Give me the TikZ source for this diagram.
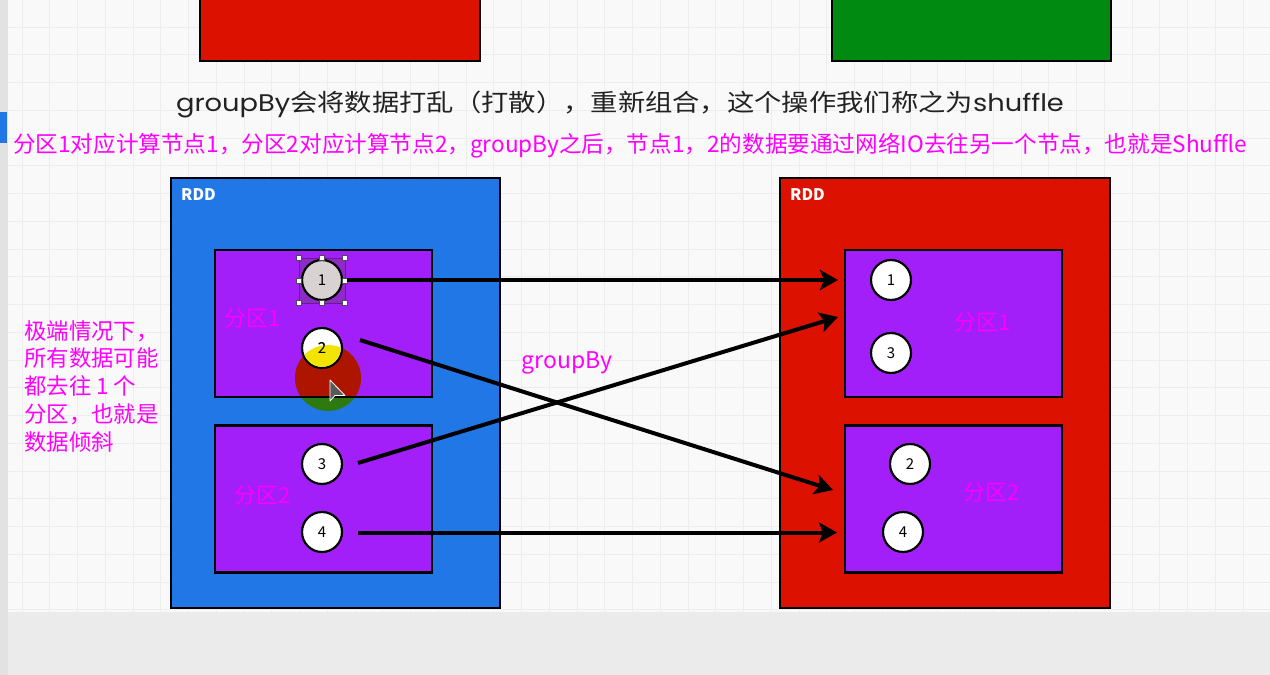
\documentclass[tikz,border=0pt]{standalone}
\usepackage{fontspec}
\setmainfont{Noto Sans CJK SC}
\newfontfamily\lat{Poppins}
\usetikzlibrary{arrows.meta}
\definecolor{bg}{HTML}{F9F9F9}
\definecolor{gridc}{HTML}{EDEDED}
\definecolor{rddblue}{HTML}{2277E6}
\definecolor{rddred}{HTML}{DD1100}
\definecolor{partc}{HTML}{A21FFA}
\definecolor{topgreen}{HTML}{008A12}
\definecolor{mag}{HTML}{FF00FF}
\definecolor{panel}{HTML}{EBEBEB}
\definecolor{strip}{HTML}{E2E2E2}
\definecolor{selgray}{HTML}{D8D2D2}
\definecolor{selfill}{HTML}{8E2BC6}
\definecolor{blobred}{HTML}{AE1500}
\definecolor{blobgreen}{HTML}{2E7A10}
\definecolor{blobyellow}{HTML}{F3E400}
\definecolor{titlec}{HTML}{222222}
\tikzset{
  rddbox/.style={draw=black, line width=2.5pt, rectangle, outer sep=0pt, inner sep=0pt},
  partbox/.style={draw=black, line width=2.5pt, fill=partc, rectangle, outer sep=0pt, inner sep=0pt, minimum width=217pt, minimum height=147pt},
  dot/.style={circle, draw=black, line width=2.2pt, fill=white, minimum size=40pt, inner sep=0pt, outer sep=0pt, font=\fontsize{15}{18}\selectfont},
  arr/.style={line width=4pt, -{Stealth[length=18pt,width=20pt,inset=4pt]}},
  magtext/.style={text=mag, inner sep=0pt},
  partlabel/.style={magtext, font=\fontsize{22}{26}\selectfont},
  rddlabel/.style={text=white, anchor=west, inner sep=0pt, font=\fontsize{16}{19}\selectfont\bfseries},
}
\begin{document}
\begin{tikzpicture}[x=1pt,y=-1pt]
\useasboundingbox (0,0) rectangle (1270,675);
% background and grid
\fill[bg] (0,0) rectangle (1270,675);
\foreach \i in {0,...,45} \draw[gridc, line width=0.9pt] (22+\i*27.75,0) -- (22+\i*27.75,612);
\foreach \j in {0,...,21} \draw[gridc, line width=0.9pt] (8,27+\j*27.75) -- (1270,27+\j*27.75);
\fill[panel] (0,612) rectangle (1270,675);
\fill[strip] (0,0) rectangle (8,675);
\fill[rddblue] (0,112) rectangle (7,143);
% top rectangles
\draw[fill=rddred, line width=2.5pt] (200,-5) rectangle (480,61);
\draw[fill=topgreen, line width=2.5pt] (832,-5) rectangle (1111,61);
% texts
\node[inner sep=0pt, text=titlec, font=\fontsize{24}{28}\selectfont] (title) at (620,104)
  {\scalebox{1.138}[1]{{\lat groupBy}会将数据打乱（打散），重新组合，这个操作我们称之为{\lat shuffle}}};
\node[magtext, anchor=west, font=\fontsize{22.6}{27}\selectfont] (note) at (13,146)
  {分区1对应计算节点1，分区2对应计算节点2，groupBy之后，节点1，2的数据要通过网络IO去往另一个节点，也就是Shuffle};
\node[magtext, anchor=north west, align=left, font=\fontsize{22.4}{27.8}\selectfont] (skew) at (24,320)
  {极端情况下，\\所有数据可能\\都去往 1 个\\分区，也就是\\数据倾斜};
% RDD boxes
\node[rddbox, fill=rddblue, minimum width=329pt, minimum height=430pt] (lrdd) at (335.5,393) {};
\node[rddbox, fill=rddred, minimum width=330pt, minimum height=430pt] (rrdd) at (945,393) {};
\node[rddlabel] (lrddt) at (181,195) {RDD};
\node[rddlabel] (rrddt) at (790,195) {RDD};
% partitions
\node[partbox] (lp1) at (323.5,323.5) {};
\node[partbox] (lp2) at (323.5,499) {};
\node[partbox] (rp1) at (953.5,323.5) {};
\node[partbox] (rp2) at (953.5,499) {};
\node[partlabel] (lp1t) at (253,318) {分区1};
\node[partlabel] (lp2t) at (263,495) {分区2};
\node[partlabel] (rp1t) at (983,322) {分区1};
\node[partlabel] (rp2t) at (992,492) {分区2};
% click highlight blob
\begin{scope}
  \clip (328,378) circle[radius=33];
  \fill[blobgreen] (290,340) rectangle (370,420);
  \fill[blobred] (lp1.north west) rectangle (lp1.south east);
\end{scope}
\draw[line width=2.5pt] (lp1.south west) -- (lp1.south east);
% selection of circle 1
\draw[fill=selfill, draw=selfill!70!black, line width=0.6pt] (299,258) rectangle (345,303);
% circles
\node[dot, fill=selgray] (l1) at (322,280) {1};
\node[dot] (l2) at (322,348) {2};
\begin{scope}
  \clip (328,378) circle[radius=33];
  \fill[blobyellow] (322,348) circle[radius=18.9];
\end{scope}
\node[inner sep=0pt, font=\fontsize{15}{18}\selectfont] (l2t) at (l2.center) {2};
\node[dot] (l3) at (322,464) {3};
\node[dot] (l4) at (322,532) {4};
\node[dot] (r1) at (891,280) {1};
\node[dot] (r3) at (891,353) {3};
\node[dot] (r2) at (910,464) {2};
\node[dot] (r4) at (903,532) {4};
% selection handles
\foreach \hx/\hy in {299/258,322/258,345/258,299/280.5,345/280.5,299/303,322/303,345/303}
  \draw[fill=white, draw=black!70, line width=0.6pt] (\hx-2.6,\hy-2.6) rectangle (\hx+2.6,\hy+2.6);
% cursor
\draw[fill=black!65, draw=white, line width=0.8pt, line join=round] (330,380) -- (330,401) -- (335,395.5) -- (345,395.5) -- cycle;
% arrows
\coordinate (a1s) at ([xshift=5pt]l1.east);
\coordinate (a1e) at (838,280);
\coordinate (a2s) at (360,340);
\coordinate (a2e) at (833,490);
\coordinate (a3s) at (358,463);
\coordinate (a3e) at (838,317);
\coordinate (a4s) at (358,532.5);
\coordinate (a4e) at (837,532.5);
\draw[arr] (a1s) -- (a1e);
\draw[arr] (a2s) -- (a2e);
\draw[arr] (a3s) -- (a3e);
\draw[arr] (a4s) -- (a4e);
\node[magtext, font=\fontsize{23}{27}\selectfont] (gb) at (567,363) {groupBy};
\end{tikzpicture}
\end{document}
